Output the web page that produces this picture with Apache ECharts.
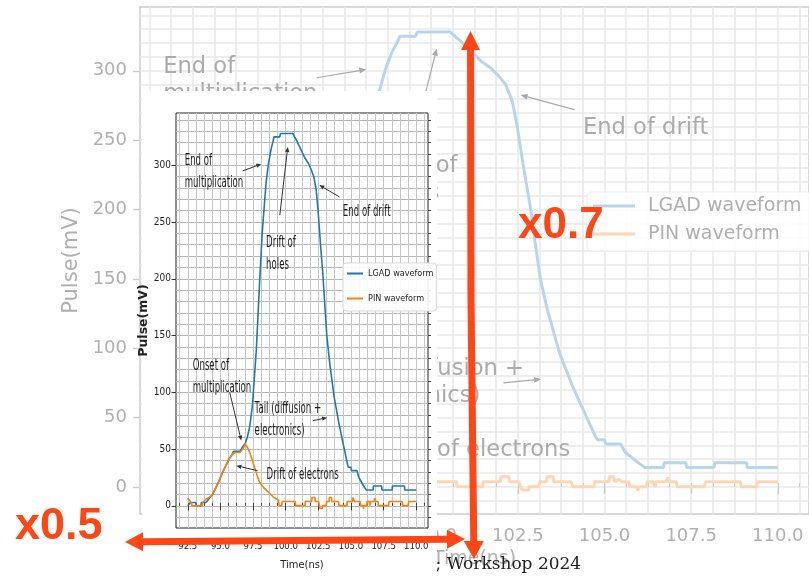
<!DOCTYPE html>
<html><head><meta charset="utf-8">
<script src="https://cdn.jsdelivr.net/npm/echarts@6/dist/echarts.min.js"></script>
<style>html,body{margin:0;padding:0;background:#fff}#c{width:809px;height:577px}</style>
</head><body><div id="c"></div><script>
// ---------------- data ----------------
const lgadTime = [92.5, 92.7, 93.1, 93.15, 93.5, 93.55, 93.9, 94.1, 94.4, 94.65, 94.9, 95.15, 95.4, 95.65, 95.9, 96.0, 96.5, 96.7, 96.9, 97.05, 97.25, 97.45, 97.75, 98.0, 98.2, 98.4, 98.5, 98.69, 98.88, 99.03, 99.1, 99.55, 99.6, 100.55, 100.63, 100.87, 101.16, 101.44, 101.72, 101.96, 102.15, 102.34, 102.48, 102.67, 102.86, 103.0, 103.15, 103.35, 103.71, 104.09, 104.47, 104.75, 104.8, 105.0, 105.04, 105.46, 105.6, 105.8, 106.0, 106.17, 106.7, 106.72, 107.35, 107.37, 108.16, 108.18, 109.1, 109.12, 110.0];
const lgadPulse = [0, 3, 3, 0, 0, 3, 3, 6, 10, 16, 22, 29, 35, 41, 45, 48, 48, 52, 55, 60, 70, 88, 137, 196, 240, 270, 285, 302, 314, 321, 325, 325, 328, 328, 326, 321, 314, 307, 302, 296, 290, 278, 260, 230, 202, 176, 150, 128, 96, 72, 51, 36, 34, 34, 31, 31, 25, 21, 17, 14, 14, 17.5, 17.5, 14, 14, 17.5, 17.5, 14, 14];
const pinTime = [92.5, 92.7, 92.85, 93.6, 93.65, 93.9, 94.15, 94.4, 94.65, 94.9, 95.15, 95.4, 95.65, 95.9, 96.15, 96.5, 96.8, 96.9, 97.2, 97.45, 97.7, 97.95, 98.2, 98.45, 98.7, 99.1, 99.45, 99.5, 99.7, 99.72, 100.73, 100.75, 101.49, 101.5, 102.0, 102.01, 102.24, 102.26, 102.53, 102.58, 102.62, 102.81, 102.82, 103.1, 103.14, 103.33, 103.34, 103.52, 103.53, 104.04, 104.08, 104.7, 104.71, 105.13, 105.14, 105.27, 105.28, 105.42, 105.5, 105.7, 105.74, 105.94, 105.96, 106.0, 106.22, 106.23, 106.41, 106.45, 106.5, 106.79, 106.82, 106.86, 107.07, 107.1, 107.88, 107.92, 108.92, 108.94, 109.39, 109.41, 110.0];
const pinPulse = [7, 4, 0, 0, 3, 6, 7.5, 10, 16, 22, 29.5, 35, 41, 45.5, 47, 47, 51.5, 55, 48.5, 40, 31, 22, 17.5, 14.5, 11.8, 7.4, 5, 0.3, 0.3, 3.8, 3.8, 0.2, 0.2, 3.8, 3.8, 7.4, 7.4, 3.8, 3.8, 0.2, -2.2, -2.2, 0.2, 0.2, 3.8, 3.8, 7.4, 7.4, 3.8, 3.8, 0.2, 0.2, 3.8, 3.8, 7.4, 7.4, 3.8, 5.5, 3.8, 3.8, 0.2, 0.2, -2.5, 0.2, 0.2, 3.8, 3.8, 0.2, 3.8, 3.8, 6.8, 3.8, 3.8, 0.2, 0.2, 3.8, 3.8, 0.2, 0.2, 3.8, 3.8];
const seriesNames = ['LGAD waveform', 'PIN waveform'];
const xTickLabels = [92.5, 95.0, 97.5, 100.0, 102.5, 105.0, 107.5, 110.0];
const yTickLabels = [0, 50, 100, 150, 200, 250, 300];
const xRange = [91.6, 110.9];
const yRange = [-19.5, 346];
const xMinorStep = 0.625, yMinorStep = 10;
// annotations (data coordinates: text top-left, arrow tail, arrow tip)
const annoText = ['End of\nmultiplication', 'Drift of\nholes', 'End of drift', 'Tail (diffusion +\nelectronics)', 'Drift of electrons', 'Onset of\nmultiplication'];
const annoTextAt = [[92.27, 309.7], [98.5, 238], [104.38, 265.5], [97.62, 92], [98.54, 33.6], [92.88, 130]];
const annoFrom = [[96.7, 295], [99.55, 256], [104.13, 272], [102.08, 75], [97.85, 31], [95.71, 100]];
const annoTo = [[98.13, 301], [100.16, 316], [102.58, 282.5], [103.17, 77.7], [96.22, 35.4], [96.6, 57.5]];

// ---------------- derived ----------------
const pairs = (t, v) => t.map((x, i) => [x, v[i]]);
const xMinor = [], yMinor = [];
for (let v = Math.ceil(xRange[0] / xMinorStep) * xMinorStep; v <= xRange[1]; v += xMinorStep) xMinor.push(+v.toFixed(4));
for (let v = Math.ceil(yRange[0] / yMinorStep) * yMinorStep; v <= yRange[1]; v += yMinorStep) yMinor.push(+v.toFixed(4));

const NARROW = "'Liberation Sans Narrow','DejaVu Sans Condensed','Arial Narrow','Roboto Condensed',sans-serif";
const BG_TXT = '#b0b0b0';
const BG_BLUE = '#b9d5eb', BG_ORANGE = '#fdd6b4';
const IN_BLUE = '#1f77b4', IN_ORANGE = '#ff7f0e';

function xAxes(g, bg) {
  return [
    { gridIndex: g, type: 'value', min: xRange[0], max: xRange[1], z: bg ? 1 : 10,
      axisLine: { show: false },
      axisTick: { show: true, customValues: xTickLabels, length: bg ? 7 : 4.5, lineStyle: { color: bg ? '#cacaca' : '#333', width: bg ? 1.3 : 1 } },
      axisLabel: { show: true, customValues: xTickLabels, formatter: v => Number(v).toFixed(1),
        color: bg ? BG_TXT : '#222', fontSize: bg ? 18 : 9.5, fontFamily: bg ? 'DejaVu Sans' : NARROW, margin: bg ? 13 : 14 },
      splitLine: { show: false },
      name: 'Time(ns)', nameLocation: 'middle', nameGap: bg ? 36 : 32,
      nameTextStyle: { color: bg ? BG_TXT : '#222', fontSize: bg ? 19 : 11, fontFamily: bg ? 'DejaVu Sans' : NARROW } },
    { gridIndex: g, type: 'value', min: xRange[0], max: xRange[1], z: bg ? 0 : 10,
      axisLine: { show: false },
      axisTick: { show: true, customValues: xMinor, length: bg ? 4 : 3, lineStyle: { color: bg ? '#cacaca' : '#444', width: 1 } },
      axisLabel: { show: false },
      splitLine: { show: true, lineStyle: { color: bg ? '#e8e8e8' : '#c6c6c6', width: bg ? 1.5 : 1 } } }
  ];
}
function yAxes(g, bg) {
  return [
    { gridIndex: g, type: 'value', min: yRange[0], max: yRange[1], z: bg ? 1 : 10,
      axisLine: { show: false },
      axisTick: { show: true, customValues: yTickLabels, length: bg ? 7 : 4.5, lineStyle: { color: bg ? '#cacaca' : '#333', width: bg ? 1.3 : 1 } },
      axisLabel: { show: true, customValues: yTickLabels, color: bg ? BG_TXT : '#222', fontSize: bg ? 18 : 10,
        fontFamily: bg ? 'DejaVu Sans' : NARROW, margin: bg ? 13 : 5 },
      splitLine: { show: false },
      name: 'Pulse(mV)', nameLocation: 'middle', nameGap: bg ? 54 : 19,
      nameTextStyle: bg ? { color: BG_TXT, fontSize: 21, fontFamily: 'DejaVu Sans' }
                        : { color: '#222', fontSize: 12.5, fontFamily: 'DejaVu Sans', fontWeight: 'bold' } },
    { gridIndex: g, type: 'value', min: yRange[0], max: yRange[1], z: bg ? 0 : 10,
      axisLine: { show: false },
      axisTick: { show: true, customValues: yMinor, length: bg ? 4 : 3, lineStyle: { color: bg ? '#cacaca' : '#444', width: 1 } },
      axisLabel: { show: false },
      splitLine: { show: true, lineStyle: { color: bg ? '#e8e8e8' : '#b6b6b6', width: bg ? 1.5 : 1.2 } } }
  ];
}

const chart = echarts.init(document.getElementById('c'), null, { renderer: 'canvas' });
chart.setOption({
  animation: false,
  backgroundColor: '#ffffff',
  grid: [
    { left: 140, top: 7, width: 679, height: 507, show: true, borderColor: '#cccccc', borderWidth: 1.5, backgroundColor: 'transparent' },
    { left: 176, top: 113, width: 252, height: 415, show: true, borderColor: '#222222', borderWidth: 1, backgroundColor: 'transparent', z: 10 }
  ],
  xAxis: [...xAxes(0, true), ...xAxes(1, false)],
  yAxis: [...yAxes(0, true), ...yAxes(1, false)],
  legend: [
    { left: 587, top: 192, orient: 'vertical', icon: 'rect', itemWidth: 42, itemHeight: 3, itemGap: 6,
      padding: [3, 10, 6, 6], backgroundColor: 'rgba(255,255,255,0.85)', borderColor: '#ececec', borderWidth: 1, borderRadius: 5,
      selectedMode: false, z: 3,
      textStyle: { color: BG_TXT, fontSize: 19, fontFamily: 'DejaVu Sans', lineHeight: 22, padding: [0, 0, 0, 8] },
      data: [{ name: seriesNames[0], itemStyle: { color: BG_BLUE } }, { name: seriesNames[1], itemStyle: { color: BG_ORANGE } }] },
    { left: 343, top: 263, orient: 'vertical', icon: 'rect', itemWidth: 16, itemHeight: 2, itemGap: 10,
      padding: [3, 3, 5, 4], backgroundColor: 'rgba(255,255,255,0.9)', borderColor: '#d8d8d8', borderWidth: 1, borderRadius: 3,
      selectedMode: false, z: 12,
      textStyle: { color: '#222', fontSize: 9, fontFamily: NARROW, lineHeight: 15 },
      data: [{ name: seriesNames[0], itemStyle: { color: IN_BLUE } }, { name: seriesNames[1], itemStyle: { color: IN_ORANGE } }] }
  ],
  series: [
    { name: seriesNames[0], type: 'line', xAxisIndex: 0, yAxisIndex: 0, data: pairs(lgadTime, lgadPulse), showSymbol: false, symbol: 'none',
      lineStyle: { color: BG_BLUE, width: 3 }, itemStyle: { color: BG_BLUE }, z: 2 },
    { name: seriesNames[1], type: 'line', xAxisIndex: 0, yAxisIndex: 0, data: pairs(pinTime, pinPulse), showSymbol: false, symbol: 'none',
      lineStyle: { color: BG_ORANGE, width: 3 }, itemStyle: { color: BG_ORANGE }, z: 2 },
    { name: seriesNames[0], type: 'line', xAxisIndex: 2, yAxisIndex: 2, data: pairs(lgadTime, lgadPulse), showSymbol: false, symbol: 'none',
      lineStyle: { color: IN_BLUE, width: 1.6 }, itemStyle: { color: IN_BLUE }, z: 11 },
    { name: seriesNames[1], type: 'line', xAxisIndex: 2, yAxisIndex: 2, data: pairs(pinTime, pinPulse), showSymbol: false, symbol: 'none',
      lineStyle: { color: IN_ORANGE, width: 1.6 }, itemStyle: { color: IN_ORANGE }, z: 11 }
  ]
});

// ---------------- annotations & overlays ----------------
function arrow(p0, p1, color, width, headLen, headHalf, z) {
  const dx = p1[0] - p0[0], dy = p1[1] - p0[1];
  const L = Math.hypot(dx, dy) || 1, ux = dx / L, uy = dy / L;
  const bx = p1[0] - ux * headLen, by = p1[1] - uy * headLen;
  return [
    { type: 'line', shape: { x1: p0[0], y1: p0[1], x2: bx, y2: by }, style: { stroke: color, lineWidth: width }, z, silent: true },
    { type: 'polygon', shape: { points: [[p1[0], p1[1]], [bx - uy * headHalf, by + ux * headHalf], [bx + uy * headHalf, by - ux * headHalf]] },
      style: { fill: color }, z, silent: true }
  ];
}
function annotations(xi, yi, cfg) {
  const els = [];
  const px = p => chart.convertToPixel({ xAxisIndex: xi, yAxisIndex: yi }, p);
  annoText.forEach((t, i) => {
    const at = px(annoTextAt[i]);
    els.push({ type: 'text', x: at[0], y: at[1] - 4, scaleX: cfg.scaleX, z: cfg.z, silent: true,
      style: { text: t, fill: cfg.color, fontSize: cfg.fontSize, fontFamily: 'DejaVu Sans', lineHeight: cfg.lineHeight,
        align: 'left', verticalAlign: 'top', textAlign: 'left', textVerticalAlign: 'top' } });
    els.push(...arrow(px(annoFrom[i]), px(annoTo[i]), cfg.arrowColor, cfg.arrowWidth, cfg.headLen, cfg.headHalf, cfg.z));
  });
  return els;
}
const RED = '#ff4614';
const elements = [
  ...annotations(0, 0, { scaleX: 1, z: 3, color: '#ababab', fontSize: 22.6, lineHeight: 27, arrowColor: '#a9a9a9', arrowWidth: 1.2, headLen: 7, headHalf: 3 }),
  { type: 'text', x: 435.6, y: 565, z: 4, silent: true,
    style: { text: '; Workshop 2024', fill: '#222', fontSize: 17, fontFamily: 'DejaVu Serif', align: 'left', verticalAlign: 'middle', textAlign: 'left', textVerticalAlign: 'middle' } },
  { type: 'rect', shape: { x: 142, y: 91, width: 295, height: 486 }, style: { fill: '#ffffff' }, z: 5, silent: true },
  ...annotations(2, 2, { scaleX: 0.52, z: 12, color: '#1a1a1a', fontSize: 16.5, lineHeight: 22, arrowColor: '#333333', arrowWidth: 1, headLen: 5, headHalf: 2.2 }),
  ...arrow([471, 300], [470.5, 31], RED, 7, 19, 9.5, 20),
  ...arrow([471, 300], [474, 559], RED, 7, 18, 10, 20),
  ...arrow([300, 540.5], [125, 542], RED, 7, 18, 9.5, 20),
  ...arrow([300, 540.5], [465, 539], RED, 7, 18, 9.5, 20),
  { type: 'text', x: 15, y: 527, z: 21, silent: true,
    style: { text: 'x0.5', fill: RED, fontSize: 45, fontWeight: 'bold', fontFamily: 'Liberation Sans', align: 'left', verticalAlign: 'middle', textAlign: 'left', textVerticalAlign: 'middle' } },
  { type: 'text', x: 518, y: 226, z: 21, silent: true,
    style: { text: 'x0.7', fill: RED, fontSize: 44, fontWeight: 'bold', fontFamily: 'Liberation Sans', align: 'left', verticalAlign: 'middle', textAlign: 'left', textVerticalAlign: 'middle' } }
];
chart.setOption({ graphic: { elements } });
</script></body></html>
